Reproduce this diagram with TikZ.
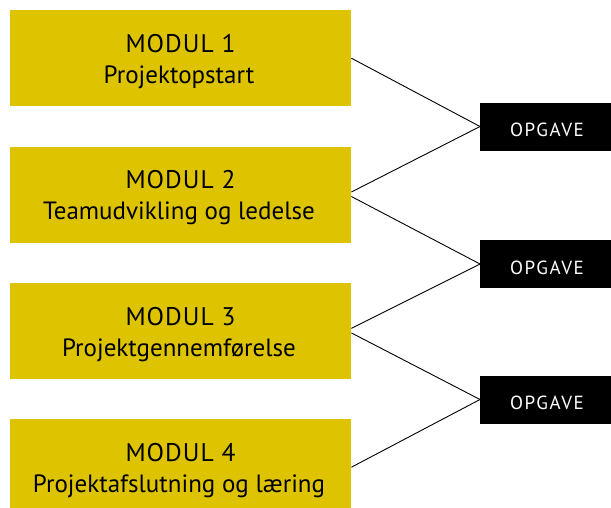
\documentclass[tikz,border=0pt]{standalone}
\usepackage{fontspec}
\setmainfont{PT Sans}
\newfontfamily\titlefont{PT Sans}[LetterSpace=4]
\newfontfamily\opgfont{PT Sans}[LetterSpace=8]
\definecolor{modyellow}{RGB}{222,196,0}
\begin{document}
\begin{tikzpicture}[x=1pt,y=-1pt,
  modbox/.style={fill=modyellow, minimum width=341pt, minimum height=96pt, inner sep=0pt, anchor=north west},
  taskbox/.style={fill=black, minimum width=131pt, minimum height=48pt, inner sep=0pt, anchor=west},
  modtitle/.style={anchor=base, inner sep=0pt, font=\titlefont\fontsize{25.5}{28}\selectfont},
  modsub/.style={anchor=base, inner sep=0pt, font=\fontsize{25}{28}\selectfont},
  tasktext/.style={anchor=base, inner sep=0pt, text=white, font=\opgfont\fontsize{19}{21}\selectfont},
  link/.style={draw=black, line width=0.9pt}]
\useasboundingbox (0,0) rectangle (611,507);
\clip (0,0) rectangle (611,507);
\node[modbox] (m1) at (10,10) {};
\node[modbox] (m2) at (10,146.3) {};
\node[modbox] (m3) at (10,282.7) {};
\node[modbox] (m4) at (10,419) {};
\node[taskbox] (o1) at (480,126.5) {};
\node[taskbox] (o2) at (480,264) {};
\node[taskbox] (o3) at (480,399.5) {};
\node[modtitle] (t1) at (180.5,52.3) {MODUL 1};
\node[modsub] (s1) at (179,83.3) {Projektopstart};
\node[modtitle] (t2) at (180.5,188.6) {MODUL 2};
\node[modsub] (s2) at (179,219.6) {Teamudvikling og ledelse};
\node[modtitle] (t3) at (180.5,325) {MODUL 3};
\node[modsub] (s3) at (179,356) {Projektgennemførelse};
\node[modtitle] (t4) at (180.5,461.3) {MODUL 4};
\node[modsub] (s4) at (179,492) {Projektafslutning og læring};
\node[tasktext] (p1) at (547,136.8) {OPGAVE};
\node[tasktext] (p2) at (547,274.3) {OPGAVE};
\node[tasktext] (p3) at (547,409.8) {OPGAVE};
\draw[link] (m1.east) -- (o1.west);
\draw[link] ([yshift=2.5pt]m2.east) -- (o1.west);
\draw[link] ([yshift=-2pt]m2.east) -- (o2.west);
\draw[link] ([yshift=2.5pt]m3.east) -- (o2.west);
\draw[link] ([yshift=-2pt]m3.east) -- (o3.west);
\draw[link] (m4.east) -- (o3.west);
\end{tikzpicture}
\end{document}
